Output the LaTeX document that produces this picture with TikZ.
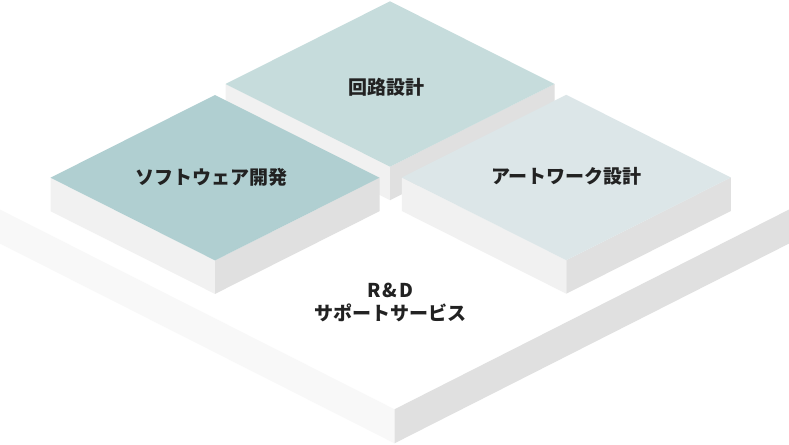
\documentclass[tikz,border=0pt]{standalone}
\usepackage{fontspec}
\newfontfamily\jp{Noto Sans CJK JP}
\definecolor{swtop}{HTML}{B0CFD1}
\definecolor{cirtop}{HTML}{C6DCDC}
\definecolor{arttop}{HTML}{DCE6E8}
\definecolor{sideL}{HTML}{F1F1F1}
\definecolor{sideR}{HTML}{E0E0E0}
\definecolor{baseL}{HTML}{F8F8F8}
\definecolor{baseR}{HTML}{E0E0E0}
\definecolor{txt}{HTML}{222222}
\tikzset{
  label text/.style={font=\jp\bfseries\fontsize{19}{24}\selectfont, text=txt, inner sep=0pt, align=center},
}
% block: center x, center y, top colour
\newcommand{\isoblock}[3]{%
  \fill[sideL] (#1-164.5,#2) -- (#1,#2+82.7) -- (#1,#2+116.2) -- (#1-164.5,#2+33.5) -- cycle;
  \fill[sideR] (#1+164.5,#2) -- (#1,#2+82.7) -- (#1,#2+116.2) -- (#1+164.5,#2+33.5) -- cycle;
  \fill[#3] (#1,#2-82.7) -- (#1+164.5,#2) -- (#1,#2+82.7) -- (#1-164.5,#2) -- cycle;
}
\begin{document}
\begin{tikzpicture}[x=1pt,y=-1pt]
\useasboundingbox (0,0) rectangle (789,444);
\clip (0,0) rectangle (789,444);
\fill[white] (0,0) rectangle (789,444);
% base platform side faces
\fill[baseL] (-40,189.3) -- (394.5,409.3) -- (394.5,443.3) -- (-40,223.3) -- cycle;
\fill[baseR] (394.5,409.3) -- (829,189.3) -- (829,223.3) -- (394.5,443.3) -- cycle;
% blocks
\isoblock{390}{84}{cirtop}
\isoblock{215}{177.7}{swtop}
\isoblock{566.3}{177.5}{arttop}
% labels
\node[label text] (cir) at (386,87) {回路設計};
\node[label text] (sw) at (211.5,177.7) {ソフトウェア開発};
\node[label text] (art) at (566.5,176.7) {アートワーク設計};
\node[label text] (rd) at (390,290) {R\kern2pt\&\kern2pt D};
\node[label text] (sup) at (390,313) {サポートサービス};
\end{tikzpicture}
\end{document}
